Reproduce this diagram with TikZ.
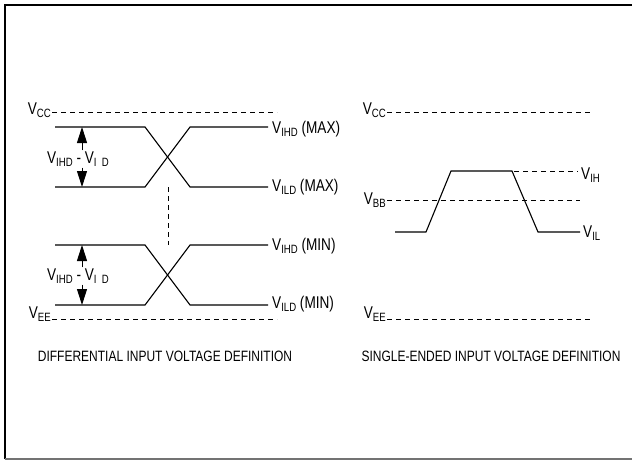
\documentclass[tikz,border=0pt]{standalone}
\usepackage{fontspec}
\setmainfont[FakeStretch=0.8]{Liberation Sans}
\usetikzlibrary{arrows.meta}
\newcommand{\sub}[1]{\raisebox{-3pt}{\fontsize{12}{12}\selectfont #1}}

\begin{document}
\begin{tikzpicture}[x=1pt,y=-1pt,inner sep=1pt,
  font=\fontsize{17}{19}\selectfont,
  level/.style={dash pattern=on 5pt off 4pt,line width=.8pt},
  wave/.style={line width=1.1pt},
  dim/.style={line width=1pt,-{Triangle[length=16pt,width=10pt]}},
  caption/.style={font=\fontsize{15}{17}\selectfont}]
\useasboundingbox (0,0) rectangle (632,460);
%Frame
\draw[line width=2pt] (5,459) -- (5,5) -- (632,5);
\draw[line width=1.5pt,black!55] (5,459) -- (632,459);
%Node Coordinates (differential)
\coordinate (CCa) at (52,112);
\coordinate (CCb) at (277,112);
\coordinate (EEa) at (52,319);
\coordinate (EEb) at (277,319);
\coordinate (U1) at (55,127);
\coordinate (U2) at (145,127);
\coordinate (U3) at (190,187);
\coordinate (U4) at (268,187);
\coordinate (U5) at (55,187);
\coordinate (U6) at (145,187);
\coordinate (U7) at (190,127);
\coordinate (U8) at (268,127);
\coordinate (L1) at (55,245);
\coordinate (L2) at (145,245);
\coordinate (L3) at (190,305);
\coordinate (L4) at (268,305);
\coordinate (L5) at (55,305);
\coordinate (L6) at (145,305);
\coordinate (L7) at (190,245);
\coordinate (L8) at (268,245);
\coordinate (Gap1) at (168,187);
\coordinate (Gap2) at (168,245);
\coordinate (ArU1) at (82,127);
\coordinate (ArU2) at (82,187);
\coordinate (ArL1) at (82,245);
\coordinate (ArL2) at (82,305);
%Node Coordinates (single-ended)
\coordinate (CCc) at (387,112);
\coordinate (CCd) at (593,112);
\coordinate (BBa) at (387,200);
\coordinate (BBb) at (580,200);
\coordinate (EEc) at (387,319);
\coordinate (EEd) at (593,319);
\coordinate (S1) at (395,232);
\coordinate (S2) at (426,232);
\coordinate (S3) at (451,171);
\coordinate (S4) at (512,171);
\coordinate (S5) at (538,232);
\coordinate (S6) at (580,232);
\coordinate (IHa) at (514,171);
\coordinate (IHb) at (578,171);
%Node Labels
\node [anchor=east,yshift=2pt] (VccL) at (CCa) {V\sub{CC}};
\node [anchor=east,yshift=5pt] (VeeL) at (EEa) {V\sub{EE}};
\node [anchor=west,xshift=3pt,yshift=-2pt] (IhdMax) at (U8) {V\sub{IHD} (MAX)};
\node [anchor=west,xshift=3pt] (IldMax) at (U4) {V\sub{ILD} (MAX)};
\node [anchor=west,xshift=3pt,yshift=-1pt] (IhdMin) at (L8) {V\sub{IHD} (MIN)};
\node [anchor=west,xshift=3pt,yshift=1pt] (IldMin) at (L4) {V\sub{ILD} (MIN)};
\node (DifU) at (78,159) {V\sub{IHD} - V\sub{I\ \ D}};
\node (DifL) at (78,276) {V\sub{IHD} - V\sub{I\ \ D}};
\node [anchor=east,yshift=2pt] (VccR) at (CCc) {V\sub{CC}};
\node [anchor=east] (VbbR) at (BBa) {V\sub{BB}};
\node [anchor=east,yshift=5pt] (VeeR) at (EEc) {V\sub{EE}};
\node [anchor=west,xshift=2pt,yshift=-4pt] (VihR) at (IHb) {V\sub{IH}};
\node [anchor=west,xshift=2pt,yshift=-1pt] (VilR) at (S6) {V\sub{IL}};
\node [caption] (CapL) at (165,356) {DIFFERENTIAL INPUT VOLTAGE DEFINITION};
\node [caption] (CapR) at (491,356) {SINGLE-ENDED INPUT VOLTAGE DEFINITION};
%connections
\draw [level] (CCa) -- (CCb);
\draw [level] (EEa) -- (EEb);
\draw [level] (Gap1) -- (Gap2);
\draw [wave] (U1) -- (U2) -- (U3) -- (U4);
\draw [wave] (U5) -- (U6) -- (U7) -- (U8);
\draw [wave] (L1) -- (L2) -- (L3) -- (L4);
\draw [wave] (L5) -- (L6) -- (L7) -- (L8);
\draw [dim] (DifU.north -| ArU1) -- (ArU1);
\draw [dim] (DifU.south -| ArU2) -- (ArU2);
\draw [dim] (DifL.north -| ArL1) -- (ArL1);
\draw [dim] (DifL.south -| ArL2) -- (ArL2);
\draw [level] (CCc) -- (CCd);
\draw [level] (BBa) -- (BBb);
\draw [level] (EEc) -- (EEd);
\draw [level] (IHa) -- (IHb);
\draw [wave] (S1) -- (S2) -- (S3) -- (S4) -- (S5) -- (S6);
\end{tikzpicture}
\end{document}
